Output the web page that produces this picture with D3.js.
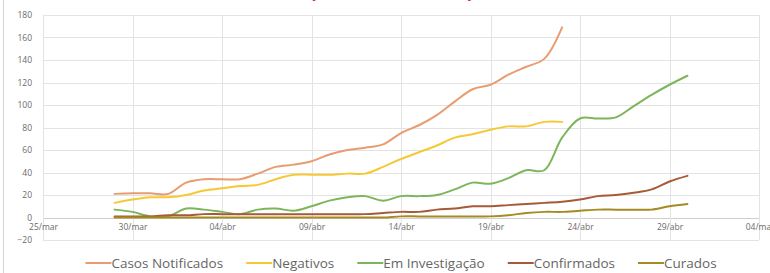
<!DOCTYPE html>
<html>
<head>
<meta charset="utf-8">
<script src="https://cdn.jsdelivr.net/npm/d3@7"></script>
<style>
  body { margin: 0; background: #fff; }
  svg { display: block; }
</style>
</head>
<body>
<div id="chart"></div>
<script>
// daily values, first point is 29/mar
const firstDay = new Date(2020, 2, 29);
const casosNotificados = [21, 21.5, 21.5, 21, 31, 34, 34, 34, 39, 45, 47, 50, 56, 60, 62, 65, 75, 82, 91, 103, 114, 118, 127, 134, 141, 169];
const negativos = [13, 16, 18, 18, 20, 24, 26, 28, 29, 34, 38, 38, 38, 39, 39, 45, 52, 58, 64, 71, 74, 78, 81, 81, 85, 85];
const emInvestigacao = [7, 5, 1, 1, 8, 7, 5, 3, 7, 8, 6, 10, 15, 18, 19, 15, 19, 19, 20, 25, 31, 30, 35, 42, 42, 71, 88, 88, 89, 99, 109, 118, 126];
const confirmados = [1, 1, 1, 2, 2, 3, 3, 3, 3, 3, 3, 3, 3, 3, 3, 4, 5, 5, 7, 8, 10, 10, 11, 12, 13, 14, 16, 19, 20, 22, 25, 32, 37];
const curados = [0, 0, 0, 0, 0, 0, 0, 0, 0, 0, 0, 0, 0, 0, 0, 0, 1, 1, 1, 1, 1, 1, 2, 4, 5, 5, 6, 7, 7, 7, 7, 10, 12];

const seriesNames = ['Casos Notificados', 'Negativos', 'Em Investigação', 'Confirmados', 'Curados'];
const seriesColors = ['#E89C70', '#F5C936', '#7DB65A', '#A65A36', '#A68A22'];
const xTickLabels = ['25/mar', '30/mar', '04/abr', '09/abr', '14/abr', '19/abr', '24/abr', '29/abr', '04/mai'];
const yTicks = [-20, 0, 20, 40, 60, 80, 100, 120, 140, 160, 180];

const width = 770;
const height = 273;
const margin = {top: 15, right: 11, bottom: 33, left: 43};

const svg = d3.select('#chart').append('svg')
  .attr('width', width)
  .attr('height', height);

// chart frame (only left edge is in view)
svg.append('line')
  .attr('x1', 3.5).attr('x2', 3.5)
  .attr('y1', 0).attr('y2', height)
  .attr('stroke', '#d4d4d4');

// title, mostly cut off above the picture
svg.append('text')
  .attr('x', 385)
  .attr('y', -2)
  .attr('text-anchor', 'middle')
  .attr('font-family', 'Open Sans, sans-serif')
  .attr('font-weight', 'bold')
  .attr('font-size', 13)
  .attr('fill', '#e02020')
  .text('Evolução dos Casos e Notificações');

const xStart = new Date(2020, 2, 25);
const xTicks = xTickLabels.map((d, i) => d3.timeDay.offset(xStart, i * 5));

const x = d3.scaleTime()
  .domain([xTicks[0], xTicks[xTicks.length - 1]])
  .range([margin.left, width - margin.right]);

const y = d3.scaleLinear()
  .domain([-20, 180])
  .range([height - margin.bottom, margin.top]);

// gridlines
const grid = svg.append('g');
grid.selectAll('.hgrid')
  .data(yTicks)
  .enter().append('line')
  .attr('x1', margin.left).attr('x2', width - margin.right)
  .attr('y1', d => Math.round(y(d)) + 0.5).attr('y2', d => Math.round(y(d)) + 0.5)
  .attr('stroke', d => d === 0 ? '#cfcfcf' : '#e3e3e3');
grid.selectAll('.vgrid')
  .data(xTicks)
  .enter().append('line')
  .attr('y1', y(180)).attr('y2', y(-20))
  .attr('x1', d => Math.round(x(d)) + 0.5).attr('x2', d => Math.round(x(d)) + 0.5)
  .attr('stroke', '#e3e3e3');

// y axis labels
const yAxis = d3.axisLeft(y).tickValues(yTicks).tickSize(0).tickPadding(11);
svg.append('g')
  .attr('transform', `translate(${margin.left},0)`)
  .call(yAxis)
  .call(g => g.select('.domain').remove())
  .selectAll('text')
  .attr('font-family', 'Open Sans, sans-serif')
  .attr('font-size', 8.5)
  .attr('fill', '#6a6a6a');

// x axis labels, sitting under the zero line
const xAxis = d3.axisBottom(x).tickValues(xTicks).tickSize(0).tickPadding(6)
  .tickFormat((d, i) => xTickLabels[i]);
svg.append('g')
  .attr('transform', `translate(0,${y(0)})`)
  .call(xAxis)
  .call(g => g.select('.domain').remove())
  .selectAll('text')
  .attr('font-family', 'Open Sans, sans-serif')
  .attr('font-size', 8.5)
  .attr('fill', '#6a6a6a');

// series lines
const seriesData = [casosNotificados, negativos, emInvestigacao, confirmados, curados];
const line = d3.line()
  .x((d, i) => x(d3.timeDay.offset(firstDay, i)))
  .y(d => y(d))
  .curve(d3.curveCatmullRom.alpha(0.5));

svg.append('g')
  .selectAll('path')
  .data(seriesData)
  .enter().append('path')
  .attr('d', line)
  .attr('fill', 'none')
  .attr('stroke', (d, i) => seriesColors[i])
  .attr('stroke-width', 2)
  .attr('stroke-linejoin', 'round')
  .attr('stroke-linecap', 'round');

// legend
const legend = svg.append('g').attr('transform', 'translate(0,263)');
const items = legend.selectAll('g')
  .data(seriesNames)
  .enter().append('g');
items.append('line')
  .attr('x1', 0).attr('x2', 26)
  .attr('y1', 0).attr('y2', 0)
  .attr('stroke', (d, i) => seriesColors[i])
  .attr('stroke-width', 2);
items.append('text')
  .attr('x', 26)
  .attr('dy', '0.35em')
  .attr('font-family', 'Open Sans, sans-serif')
  .attr('font-size', 13.5)
  .attr('fill', '#666')
  .text(d => d);

let offset = 0;
const widths = [];
items.each(function() {
  widths.push(26 + this.querySelector('text').getComputedTextLength());
});
const gap = 23;
const total = d3.sum(widths) + gap * (widths.length - 1);
offset = (margin.left + width - margin.right) / 2 - total / 2;
items.attr('transform', (d, i) => {
  const pos = offset;
  offset += widths[i] + gap;
  return `translate(${pos},0)`;
});
</script>
</body>
</html>
